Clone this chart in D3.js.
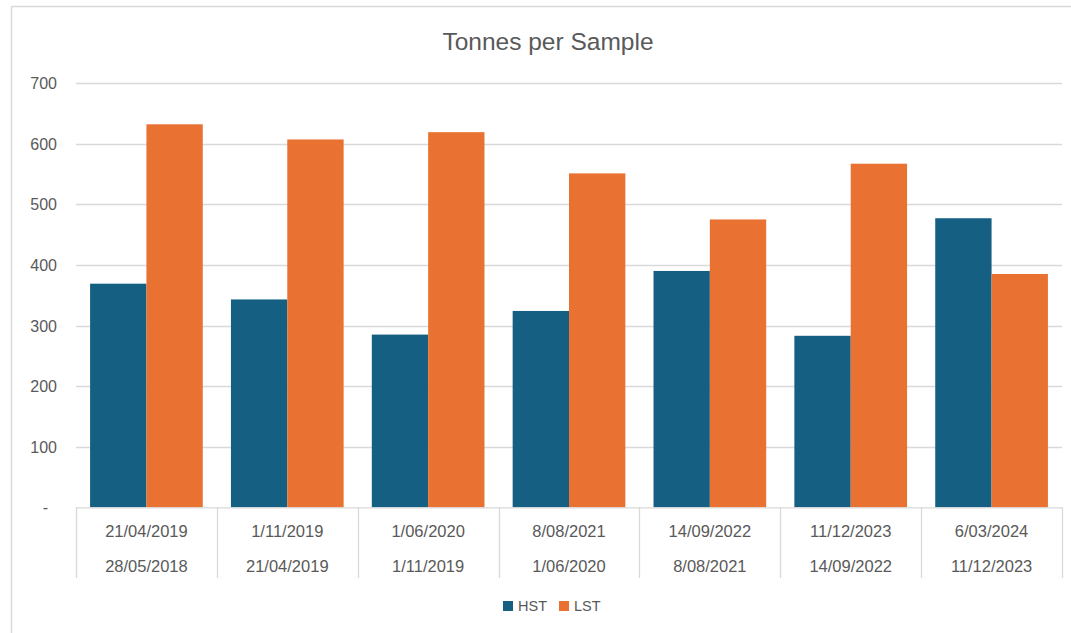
<!DOCTYPE html>
<html><head><meta charset="utf-8">
<script src="https://cdn.jsdelivr.net/npm/d3@7"></script>
<style>body{margin:0;background:#fff}svg{display:block}text{font-family:"Liberation Sans",Arial,sans-serif;fill:#595959}</style>
</head><body>
<script>
const line1 = ["21/04/2019","1/11/2019","1/06/2020","8/08/2021","14/09/2022","11/12/2023","6/03/2024"];
const line2 = ["28/05/2018","21/04/2019","1/11/2019","1/06/2020","8/08/2021","14/09/2022","11/12/2023"];
const hst = [369, 343, 285, 324, 390, 283, 477];
const lst = [632, 607, 619, 551, 475, 567, 385];
const seriesNames = ["HST","LST"];
const colors = ["#156082","#E97132"];
const yTicks = [0,100,200,300,400,500,600,700];

const W=1071,H=633;
const svg=d3.select("body").append("svg").attr("width",W).attr("height",H);
svg.append("rect").attr("x",11.5).attr("y",6.5).attr("width",1070).attr("height",640).attr("fill","#fff").attr("stroke","#d9d9d9").attr("stroke-width",1.5);

const x0=76,x1=1062,yTop=83.1,yBot=507.3;
const cats=d3.range(line1.length);
const x=d3.scaleBand().domain(cats).range([x0,x1]).paddingInner(0.2).paddingOuter(0.1);
const xs=d3.scaleBand().domain(seriesNames).range([0,x.bandwidth()]);
const y=d3.scaleLinear().domain([0,700]).range([yBot,yTop]);

// grid
svg.append("g").selectAll("line").data(yTicks.filter(d=>d>0)).join("line")
 .attr("x1",x0).attr("x2",x1).attr("y1",d=>Math.round(y(d))+0.5).attr("y2",d=>Math.round(y(d))+0.5)
 .attr("stroke","#d9d9d9").attr("stroke-width",1.3);

// y labels
const yAxis=d3.axisLeft(y).tickValues(yTicks).tickSize(0).tickPadding(0).tickFormat(d=>d===0?"-":d);
const ga=svg.append("g").attr("transform",`translate(57,0)`).call(yAxis);
ga.select(".domain").remove();
ga.selectAll("text").attr("font-size",16).style("font-family","Liberation Sans, Arial").attr("fill","#595959").attr("dy","0.35em")
  .attr("dx",d=>d===0?-9:0);

// bars
const data=cats.map(i=>[hst[i],lst[i]]);
const groups=svg.append("g").selectAll("g").data(data).join("g").attr("transform",(d,i)=>`translate(${x(i)},0)`);
groups.selectAll("rect").data(d=>d.map((v,j)=>({v,j}))).join("rect")
 .attr("x",d=>xs(seriesNames[d.j])).attr("width",xs.bandwidth())
 .attr("y",d=>y(d.v)).attr("height",d=>y(0)-y(d.v)).attr("fill",d=>colors[d.j]);

// category axis
const step=x.step();
const ax=svg.append("g");
ax.append("line").attr("x1",x0).attr("x2",x1).attr("y1",yBot+0.5).attr("y2",yBot+0.5).attr("stroke","#d9d9d9").attr("stroke-width",1.3);
const bounds=d3.range(line1.length+1).map(i=>x0+i*step);
ax.selectAll("line.sep").data(bounds).join("line").attr("class","sep")
 .attr("x1",d=>Math.round(d)+0.5).attr("x2",d=>Math.round(d)+0.5).attr("y1",yBot).attr("y2",578)
 .attr("stroke","#d9d9d9").attr("stroke-width",1.3);
ax.selectAll("text.l1").data(line1).join("text").attr("class","l1")
 .attr("x",(d,i)=>x(i)+x.bandwidth()/2).attr("y",531).attr("dy","0.35em").attr("text-anchor","middle").attr("font-size",16.5).text(d=>d);
ax.selectAll("text.l2").data(line2).join("text").attr("class","l2")
 .attr("x",(d,i)=>x(i)+x.bandwidth()/2).attr("y",566).attr("dy","0.35em").attr("text-anchor","middle").attr("font-size",16.5).text(d=>d);

// title
svg.append("text").attr("x",548).attr("y",41).attr("dy","0.35em").attr("text-anchor","middle").attr("font-size",24.5).text("Tonnes per Sample");

// legend
const lg=svg.append("g");
const lx=[503,559];
seriesNames.forEach((s,i)=>{
  lg.append("rect").attr("x",lx[i]).attr("y",601).attr("width",10).attr("height",10).attr("fill",colors[i]);
  lg.append("text").attr("x",lx[i]+15).attr("y",606).attr("dy","0.35em").attr("font-size",14.5).text(s);
});
</script>
</body></html>
